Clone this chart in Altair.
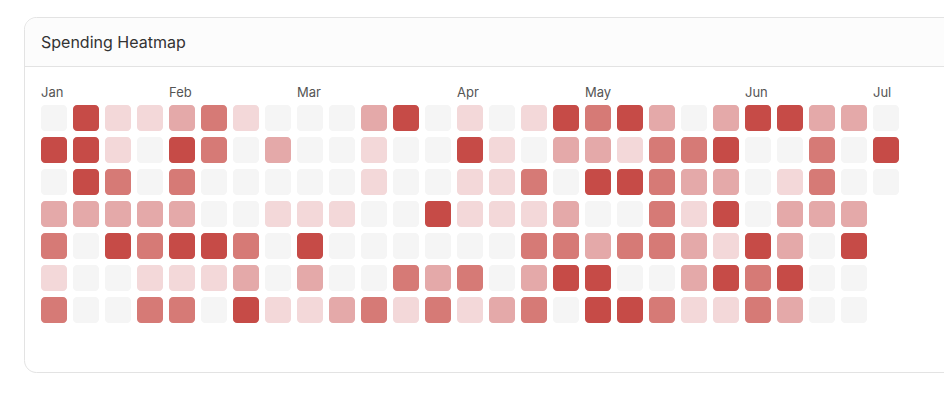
import altair as alt
import pandas as pd

# ---- data ----
title_text = "Spending Heatmap"
month_names = ["Jan", "Feb", "Mar", "Apr", "May", "Jun", "Jul"]
month_start_week = [0, 4, 8, 13, 17, 22, 26]

# spending intensity level per weekday row (0 = no spending .. 4 = highest), one list per row, by week
row0 = [0, 4, 1, 1, 2, 3, 1, 0, 0, 0, 2, 4, 0, 1, 0, 1, 4, 3, 4, 2, 0, 2, 4, 4, 2, 2, 0]
row1 = [4, 4, 1, 0, 4, 3, 0, 2, 0, 0, 1, 0, 0, 4, 1, 0, 2, 2, 1, 3, 3, 4, 0, 0, 3, 0, 4]
row2 = [0, 4, 3, 0, 3, 0, 0, 0, 0, 0, 1, 0, 0, 1, 1, 3, 0, 4, 4, 3, 2, 2, 0, 1, 3, 0, 0]
row3 = [2, 2, 2, 2, 2, 0, 0, 1, 1, 1, 0, 0, 4, 1, 1, 1, 2, 0, 0, 3, 1, 4, 0, 2, 2, 2]
row4 = [3, 0, 4, 3, 4, 4, 3, 0, 4, 0, 0, 0, 0, 0, 0, 3, 3, 2, 3, 3, 2, 1, 4, 2, 0, 4]
row5 = [1, 0, 0, 1, 1, 1, 2, 0, 2, 0, 0, 3, 2, 3, 0, 2, 4, 4, 0, 0, 2, 4, 3, 4, 0, 0]
row6 = [3, 0, 0, 3, 3, 0, 4, 1, 1, 2, 3, 1, 3, 1, 2, 3, 0, 4, 4, 3, 1, 1, 3, 2, 0, 0]
rows = [row0, row1, row2, row3, row4, row5, row6]

level_values = [0, 1, 2, 3, 4]
level_colors = ["#f5f5f5", "#f3d8d9", "#e4a9a9", "#d67a76", "#c64b47"]

cells = pd.DataFrame(
    [{"week": w, "day": d, "level": v} for d, r in enumerate(rows) for w, v in enumerate(r)]
)
months = pd.DataFrame({"week": month_start_week, "label": month_names})

# ---- geometry (styles) ----
W, H = 936, 380
x_scale = alt.Scale(domain=[0, 26], range=[33, 33 + 32 * 26], nice=False, zero=False)
y_scale = alt.Scale(domain=[0, 6], range=[97, 97 + 32 * 6], nice=False, zero=False)
FONT = "Inter"

# card
card = alt.Chart(pd.DataFrame({"k": [0]})).mark_rect(
    fill="white", stroke="#e3e3e3", strokeWidth=1, cornerRadius=12
).encode(x=alt.value(16.5), x2=alt.value(980), y=alt.value(9.5), y2=alt.value(364.5))

header = alt.Chart(pd.DataFrame({"k": [0]})).mark_rect(
    fill="#fcfcfc", cornerRadiusTopLeft=11.5
).encode(x=alt.value(17), x2=alt.value(980), y=alt.value(10), y2=alt.value(58))

header_line = alt.Chart(pd.DataFrame({"k": [0]})).mark_rule(
    stroke="#e3e3e3", strokeWidth=1
).encode(x=alt.value(17), x2=alt.value(980), y=alt.value(58.5))

title = alt.Chart(pd.DataFrame({"t": [title_text]})).mark_text(
    align="left", baseline="middle", font=FONT, fontSize=16, color="#333333"
).encode(x=alt.value(33), y=alt.value(35), text="t:N")

rects = alt.Chart(cells).transform_calculate(
    week2="datum.week + 26/32", day2="datum.day + 26/32"
).mark_rect(cornerRadius=4).encode(
    x=alt.X("week:Q", scale=x_scale, axis=None),
    x2="week2:Q",
    y=alt.Y("day:Q", scale=y_scale, axis=None),
    y2="day2:Q",
    color=alt.Color("level:O", scale=alt.Scale(domain=level_values, range=level_colors), legend=None),
)

labels = alt.Chart(months).transform_calculate(
    ly="-0.25"
).mark_text(
    align="left", baseline="alphabetic", font=FONT, fontSize=13, color="#555555"
).encode(
    x=alt.X("week:Q", scale=x_scale, axis=None),
    y=alt.Y("ly:Q", scale=y_scale, axis=None),
    text="label:N",
)

chart = alt.layer(card, header, header_line, title, rects, labels).properties(
    width=W, height=H, autosize=alt.AutoSizeParams(type="none"), padding=0,
    background="white",
).configure_view(strokeWidth=0, stroke="transparent")

chart.save("out.html", embed_options={"renderer": "svg", "actions": False})
